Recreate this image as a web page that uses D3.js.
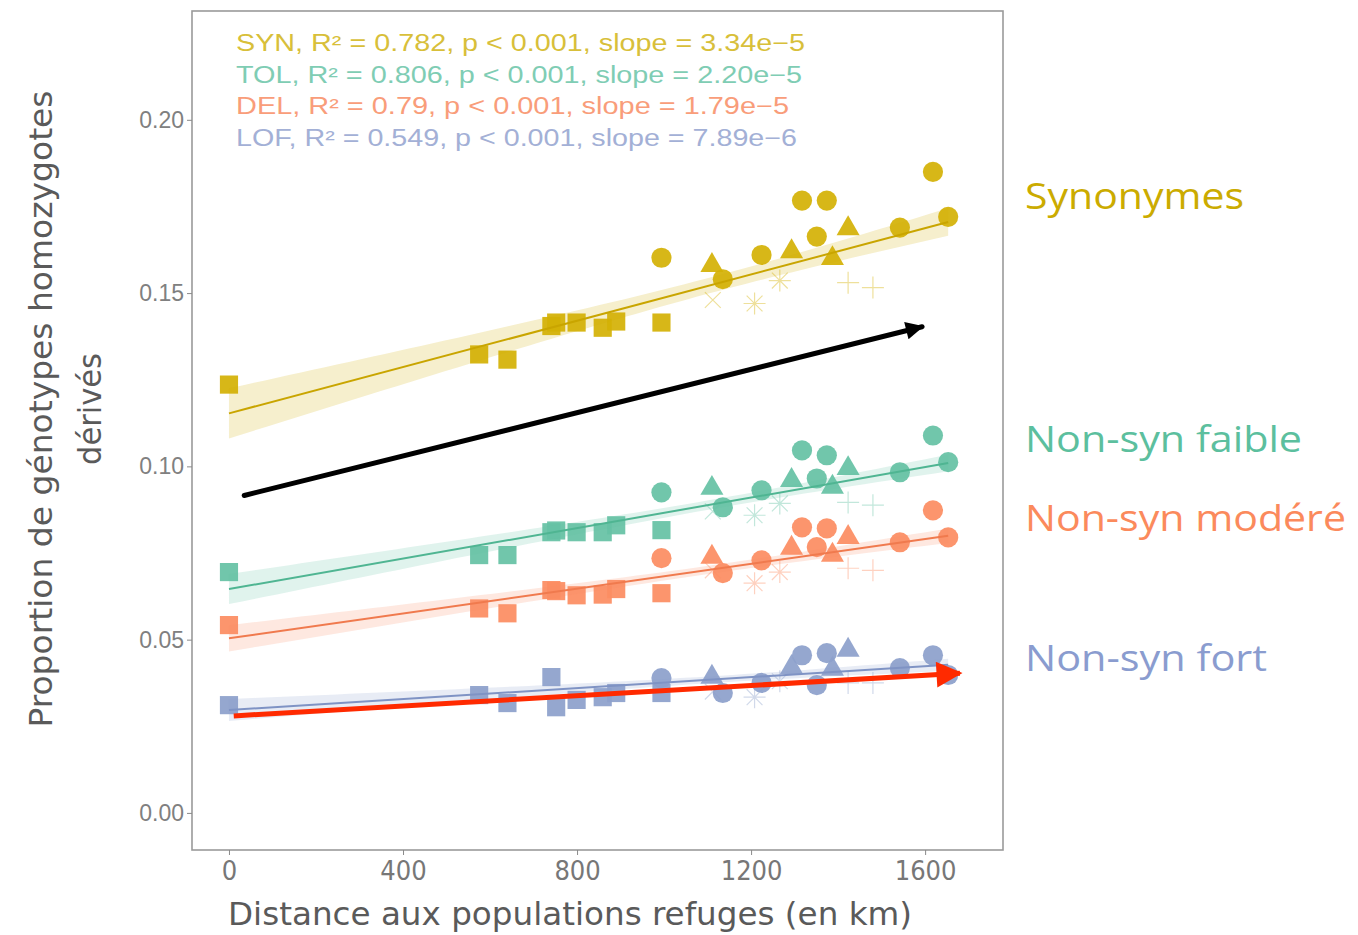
<!DOCTYPE html>
<html><head><meta charset="utf-8">
<script src="https://cdn.jsdelivr.net/npm/d3@7"></script>
<style>
body{margin:0;background:#fff;}
svg{display:block;}
</style></head>
<body>
<svg id="chart" width="1358" height="935"></svg>
<script>
// ---------- DATA ----------
const distances = [0,575,640,741,752,799,859,890,994,994,1110,1135,1112,1224,1208,1266,1293,1317,1374,1351,1387,1423,1423,1480,1542,1618,1653];
const shapes = ["square","square","square","square","square","square","square","square","square","circle","triangle","circle","cross","circle","asterisk","asterisk","triangle","circle","circle","circle","triangle","triangle","plus","plus","circle","circle","circle"];
const synValues = [0.1236,0.1323,0.1308,0.1405,0.1415,0.1415,0.1400,0.1418,0.1415,0.1602,0.1580,0.1540,0.1480,0.1610,0.1470,0.1536,0.1620,0.1767,0.1767,0.1663,0.1600,0.1686,0.1530,0.1516,0.1689,0.1850,0.1720];
const tolValues = [0.0695,0.0744,0.0744,0.0810,0.0815,0.0810,0.0810,0.0830,0.0816,0.0925,0.0937,0.0882,0.0870,0.0931,0.0859,0.0893,0.0960,0.1046,0.1032,0.0965,0.0940,0.0994,0.0896,0.0888,0.0983,0.1089,0.1012];
const delValues = [0.0542,0.0590,0.0576,0.0643,0.0640,0.0628,0.0630,0.0646,0.0634,0.0735,0.0738,0.0692,0.0700,0.0729,0.0663,0.0695,0.0764,0.0824,0.0821,0.0767,0.0744,0.0795,0.0706,0.0700,0.0781,0.0873,0.0795];
const lofValues = [0.0311,0.0340,0.0317,0.0392,0.0305,0.0326,0.0334,0.0346,0.0346,0.0389,0.0392,0.0346,0.0350,0.0375,0.0334,0.0380,0.0420,0.0455,0.0461,0.0369,0.0415,0.0470,0.0375,0.0375,0.0418,0.0455,0.0398];
const seriesNames = ["SYN","TOL","DEL","LOF"];
const fitIntercepts = [0.1153,0.0646,0.0504,0.0297];
const fitSlopes = [3.34e-5,2.20e-5,1.79e-5,7.89e-6];
const statLabels = [
  "SYN, R\u00B2 = 0.782, p < 0.001, slope = 3.34e\u22125",
  "TOL, R\u00B2 = 0.806, p < 0.001, slope = 2.20e\u22125",
  "DEL, R\u00B2 = 0.79, p < 0.001, slope = 1.79e\u22125",
  "LOF, R\u00B2 = 0.549, p < 0.001, slope = 7.89e\u22126"];
const groupLabels = ["Synonymes","Non-syn faible","Non-syn mod\u00E9r\u00E9","Non-syn fort"];
const xTicks = [0,400,800,1200,1600];
const yTicks = [0.00,0.05,0.10,0.15,0.20];
// arrows in data coordinates [x0,y0,x1,y1]
const blackArrow = [35,0.0916,1593,0.1403];
const redArrow = [11,0.0280,1680,0.0403];

// ---------- STYLE ----------
const colors = ["#d4b106","#66c2a5","#fc8d62","#8da0cb"];
const lineColors = ["#c9a500","#4fb592","#f07a4e","#7f93c4"];
const statColors = ["#d8bf3a","#7fcdb4","#f99d7a","#a3b0d6"];
const labelColors = ["#cbab00","#5cbf9e","#fb8a5c","#8a9ccf"];

const svg = d3.select("#chart");
const panel = {left:192, top:11, right:1003, bottom:850};
const x = d3.scaleLinear().domain([-85,1779]).range([panel.left,panel.right]);
const y = d3.scaleLinear().domain([-0.0107,0.2314]).range([panel.bottom,panel.top]);

// panel border
svg.append("rect").attr("x",panel.left).attr("y",panel.top)
  .attr("width",panel.right-panel.left).attr("height",panel.bottom-panel.top)
  .attr("fill","#fff").attr("stroke","#9a9a9a").attr("stroke-width",1.6);

// axes
const xAxis = svg.append("g").attr("transform",`translate(0,${panel.bottom})`)
  .call(d3.axisBottom(x).tickValues(xTicks).tickSize(5).tickPadding(6).tickFormat(d3.format("d")));
xAxis.select(".domain").remove();
xAxis.selectAll("line").attr("stroke","#8a8a8a");
xAxis.selectAll("text").attr("fill","#777").style("font-family","'Liberation Sans Narrow','DejaVu Sans Condensed',sans-serif").style("font-size","27px").attr("dy","0.71em");

const yAxis = svg.append("g").attr("transform",`translate(${panel.left},0)`)
  .call(d3.axisLeft(y).tickValues(yTicks).tickSize(5).tickPadding(3).tickFormat(d3.format(".2f")));
yAxis.select(".domain").remove();
yAxis.selectAll("line").attr("stroke","#8a8a8a");
yAxis.selectAll("text").attr("fill","#808080").style("font-family","'Liberation Sans',Arial,sans-serif").style("font-size","23px");

// axis titles
svg.append("text").attr("x",570).attr("y",925).attr("text-anchor","middle")
  .attr("fill","#5a5a5a").style("font-family","'Liberation Sans Narrow','DejaVu Sans Condensed',sans-serif").style("font-size","32px")
  .attr("textLength",684).attr("lengthAdjust","spacingAndGlyphs")
  .text("Distance aux populations refuges (en km)");
const yt = svg.append("g").attr("transform","translate(0,409) rotate(-90)");
yt.append("text").attr("x",0).attr("y",52).attr("text-anchor","middle")
  .attr("fill","#5a5a5a").style("font-family","'Liberation Sans Narrow','DejaVu Sans Condensed',sans-serif").style("font-size","32px")
  .attr("textLength",637).attr("lengthAdjust","spacingAndGlyphs")
  .text("Proportion de g\u00E9notypes homozygotes");
yt.append("text").attr("x",0).attr("y",101).attr("text-anchor","middle")
  .attr("fill","#5a5a5a").style("font-family","'Liberation Sans Narrow','DejaVu Sans Condensed',sans-serif").style("font-size","32px")
  .attr("textLength",112).attr("lengthAdjust","spacingAndGlyphs")
  .text("d\u00E9riv\u00E9s");

// build series
const allValues = [synValues,tolValues,delValues,lofValues];
const series = seriesNames.map((name,i)=>({
  name, color:colors[i], lineColor:lineColors[i], a:fitIntercepts[i], b:fitSlopes[i],
  points: distances.map((d,j)=>({d, v:allValues[i][j], shape:shapes[j]}))
}));

const plotG = svg.append("g");
const sym = {square:d3.symbolSquare, circle:d3.symbolCircle, triangle:d3.symbolTriangle};
const symSize = {square:330, circle:320, triangle:230};
function linePath(type, r){
  if(type==="plus") return `M${-r},0L${r},0M0,${-r}L0,${r}`;
  if(type==="cross"){const q=r*0.72; return `M${-q},${-q}L${q},${q}M${-q},${q}L${q},${-q}`;}
  const q=r*0.72; return `M${-r},0L${r},0M0,${-r}L0,${r}M${-q},${-q}L${q},${q}M${-q},${q}L${q},${-q}`;
}
// points
series.forEach(s=>{
  const g = plotG.append("g");
  s.points.forEach(p=>{
    const tx = `translate(${x(p.d)},${y(p.v)})`;
    if(sym[p.shape]){
      g.append("path").attr("transform",tx)
        .attr("d",d3.symbol().type(sym[p.shape]).size(symSize[p.shape])())
        .attr("fill",s.color).attr("opacity",0.93);
    } else {
      g.append("path").attr("transform",tx).attr("d",linePath(p.shape,11))
        .attr("fill","none").attr("stroke",s.color).attr("stroke-width",1.2).attr("opacity",0.4);
    }
  });
});

// confidence bands & fit lines
series.forEach(s=>{
  const n = s.points.length;
  const xbar = d3.mean(s.points,p=>p.d);
  const sxx = d3.sum(s.points,p=>(p.d-xbar)**2);
  const rss = d3.sum(s.points,p=>(p.v-(s.a+s.b*p.d))**2);
  const se = Math.sqrt(rss/(n-2));
  const t = 1.45;
  const xs = d3.range(0,1653.01,1653/60);
  const band = xs.map(xx=>{
    const f = s.a+s.b*xx, h = t*se*Math.sqrt(1/n+(xx-xbar)**2/sxx);
    return {xx, lo:f-h, hi:f+h};
  });
  plotG.append("path").datum(band)
    .attr("d",d3.area().x(d=>x(d.xx)).y0(d=>y(d.lo)).y1(d=>y(d.hi)))
    .attr("fill",s.color).attr("opacity",0.2);
  plotG.append("path").datum([0,1653])
    .attr("d",d3.line().x(d=>x(d)).y(d=>y(s.a+s.b*d)))
    .attr("stroke",s.lineColor).attr("stroke-width",2).attr("fill","none");
});

// stats text
statLabels.forEach((t,i)=>{
  svg.append("text").attr("x",236).attr("y",51+i*31.5)
    .attr("fill",statColors[i]).style("font-family","'Liberation Sans',Arial,sans-serif").style("font-size","23px")
    .attr("textLength",[569,566,553,561][i]).attr("lengthAdjust","spacingAndGlyphs")
    .text(t);
});

// group labels on the right
const labelY = [209,452,531,671];
groupLabels.forEach((t,i)=>{
  svg.append("text").attr("x",1025).attr("y",labelY[i])
    .attr("fill",labelColors[i]).style("font-family","'Open Sans','Noto Sans',sans-serif").style("font-size","36px")
    .attr("textLength",[219,277,321,242][i]).attr("lengthAdjust","spacingAndGlyphs")
    .text(t);
});

// arrows
const defs = svg.append("defs");
function marker(id,color,w,h){
  defs.append("marker").attr("id",id).attr("viewBox","0 0 10 10").attr("refX",9).attr("refY",5)
    .attr("markerUnits","userSpaceOnUse").attr("markerWidth",w).attr("markerHeight",h).attr("orient","auto")
    .append("path").attr("d","M0,0L10,5L0,10Z").attr("fill",color);
}
marker("blackHead","#000",22,18);
marker("redHead","#ff2a00",28,26);
svg.append("line").attr("x1",x(blackArrow[0])).attr("y1",y(blackArrow[1])).attr("x2",x(blackArrow[2])).attr("y2",y(blackArrow[3]))
  .attr("stroke","#000").attr("stroke-width",5).attr("stroke-linecap","round").attr("marker-end","url(#blackHead)");
svg.append("line").attr("x1",x(redArrow[0])).attr("y1",y(redArrow[1])).attr("x2",x(redArrow[2])).attr("y2",y(redArrow[3]))
  .attr("stroke","#ff2a00").attr("stroke-width",5).attr("marker-end","url(#redHead)");
</script>
</body></html>
